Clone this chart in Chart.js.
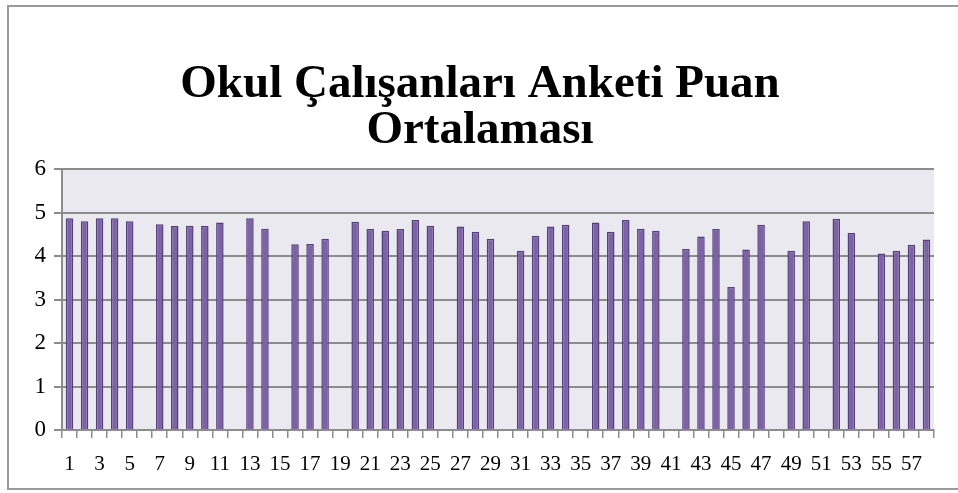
<!DOCTYPE html>
<html>
<head>
<meta charset="utf-8">
<script src="https://cdn.jsdelivr.net/npm/chart.js@4/dist/chart.umd.min.js"></script>
<style>
  html, body { margin: 0; padding: 0; background: #ffffff; }
  #wrap { position: relative; width: 958px; height: 493px; overflow: hidden; }
  #frame { position: absolute; left: 7px; top: 5px; width: 960px; height: 485px; border: 2px solid #9a9a9a; box-sizing: border-box; pointer-events: none; }
  canvas { position: absolute; left: 0; top: 0; }
</style>
</head>
<body>
<div id="wrap">
  <canvas id="c" width="958" height="493"></canvas>
  <div id="frame"></div>
</div>
<script>
const titleLines = ["Okul Çalışanları Anketi Puan", "Ortalaması"];
const categories = [];
for (let i = 1; i <= 58; i++) categories.push(String(i));
const scores = [
  4.87, 4.80, 4.87, 4.87, 4.80, null, 4.73, 4.69, 4.70, 4.69,
  4.77, null, 4.87, 4.63, null, 4.27, 4.28, 4.40, null, 4.79,
  4.62, 4.58, 4.62, 4.83, 4.70, null, 4.68, 4.56, 4.40, null,
  4.12, 4.47, 4.68, 4.72, null, 4.77, 4.56, 4.83, 4.63, 4.58,
  null, 4.16, 4.45, 4.62, 3.29, 4.15, 4.72, null, 4.12, 4.80,
  null, 4.86, 4.53, null, 4.06, 4.12, 4.26, 4.38
];
const yTicks = [0, 1, 2, 3, 4, 5, 6];

const plotBg = {
  id: 'plotBg',
  beforeDraw(chart) {
    const a = chart.chartArea, ctx = chart.ctx;
    ctx.save();
    ctx.fillStyle = '#ebe9f0';
    ctx.fillRect(a.left, a.top, a.right - a.left, a.bottom - a.top);
    ctx.restore();
  }
};

new Chart(document.getElementById('c'), {
  type: 'bar',
  data: {
    labels: categories,
    datasets: [{
      data: scores,
      backgroundColor: '#7d62a5',
      borderColor: '#54407c',
      borderWidth: 1.5,
      barPercentage: 0.5,
      categoryPercentage: 1.0
    }]
  },
  options: {
    responsive: false,
    animation: false,
    layout: { padding: { left: 26, right: 24, top: 0, bottom: 0 } },
    plugins: {
      legend: { display: false },
      tooltip: { enabled: false },
      title: {
        display: true,
        text: titleLines,
        color: '#000000',
        font: { family: 'Liberation Serif', size: 47, weight: 'bold', lineHeight: 0.98 },
        padding: { top: 62, bottom: 15 }
      }
    },
    scales: {
      x: {
        offset: true,
        afterFit(scale) { scale.height = 63; },
        grid: {
          offset: true,
          drawOnChartArea: false,
          drawTicks: true,
          tickLength: 8,
          color: '#8c8c8c',
          lineWidth: 1.5
        },
        border: { display: true, color: '#8c8c8c', width: 2 },
        ticks: {
          autoSkip: false,
          maxRotation: 0,
          minRotation: 0,
          padding: 14,
          color: '#000000',
          font: { family: 'Liberation Serif', size: 21 },
          callback(val, i) { return i % 2 === 0 ? categories[i] : ''; }
        }
      },
      y: {
        min: 0,
        max: 6,
        afterFit(scale) { scale.width = 36; },
        afterBuildTicks(scale) { scale.ticks = yTicks.map(v => ({ value: v })); },
        grid: {
          color: '#8c8c8c',
          lineWidth: 2,
          tickLength: 8,
          drawTicks: true
        },
        border: { display: true, color: '#8c8c8c', width: 2 },
        ticks: {
          padding: 8,
          color: '#000000',
          font: { family: 'Liberation Serif', size: 23 }
        }
      }
    }
  },
  plugins: [plotBg]
});
</script>
</body>
</html>
